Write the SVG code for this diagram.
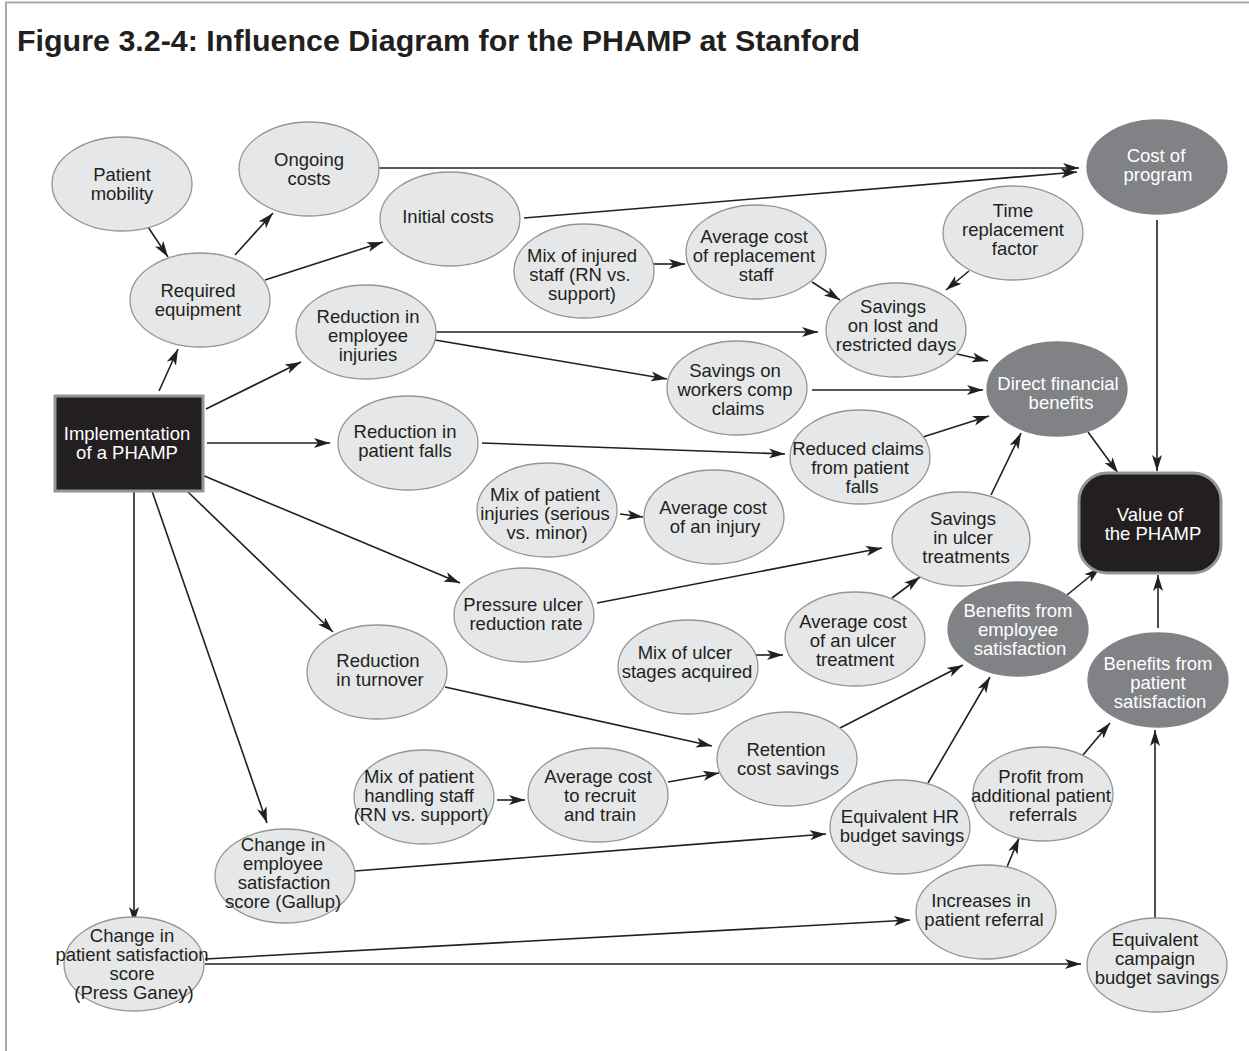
<svg xmlns="http://www.w3.org/2000/svg" width="1249" height="1051" viewBox="0 0 1249 1051">
<style>
.t{font-family:"Liberation Sans",Arial,Helvetica,sans-serif;font-size:18.5px;fill:#231f20;text-anchor:middle}
.w{fill:#ffffff}
.n{fill:#e6e7e8;stroke:#939598;stroke-width:1.3}
.d{fill:#808285;stroke:#808285;stroke-width:1.3}
.k{fill:#231f20;stroke:#939598;stroke-width:3}
.e{stroke:#231f20;stroke-width:1.6;fill:none;marker-end:url(#ah)}
</style>
<defs>
<marker id="ah" markerUnits="userSpaceOnUse" markerWidth="18" markerHeight="12" refX="16" refY="5" orient="auto">
<path d="M0,0 L16,5 L0,10 L4,5 z" fill="#231f20"/>
</marker>
</defs>
<rect width="1249" height="1051" fill="#ffffff"/>
<path d="M6,1051 V2.5 H1249" fill="none" stroke="#a7a9ac" stroke-width="2"/>
<text x="17" y="51" font-family="Liberation Sans,Arial,sans-serif" font-weight="bold" font-size="30" fill="#231f20" textLength="843" lengthAdjust="spacingAndGlyphs">Figure 3.2-4: Influence Diagram for the PHAMP at Stanford</text>

<g id="connectors">
<line class="e" x1="148" y1="227" x2="168" y2="257"/>
<line class="e" x1="235" y1="255" x2="273" y2="213"/>
<line class="e" x1="265" y1="280" x2="383" y2="242"/>
<line class="e" x1="379" y1="168" x2="1079" y2="168"/>
<line class="e" x1="524" y1="218" x2="1077" y2="172"/>
<line class="e" x1="653" y1="264" x2="685" y2="264"/>
<line class="e" x1="812" y1="282" x2="840" y2="300"/>
<line class="e" x1="969" y1="271" x2="946" y2="290"/>
<line class="e" x1="435" y1="332" x2="818" y2="332"/>
<line class="e" x1="435" y1="340" x2="667" y2="379"/>
<line class="e" x1="957" y1="354" x2="988" y2="361"/>
<line class="e" x1="812" y1="390" x2="983" y2="390"/>
<line class="e" x1="923" y1="437" x2="989" y2="416"/>
<line class="e" x1="991" y1="495" x2="1021" y2="433"/>
<line class="e" x1="1088" y1="432" x2="1118" y2="473"/>
<line class="e" x1="1157" y1="220" x2="1157" y2="471"/>
<line class="e" x1="1067" y1="595" x2="1100" y2="568"/>
<line class="e" x1="1158" y1="628" x2="1158" y2="575"/>
<line class="e" x1="159" y1="391" x2="178" y2="349"/>
<line class="e" x1="206" y1="409" x2="301" y2="362"/>
<line class="e" x1="207" y1="443" x2="330" y2="443"/>
<line class="e" x1="202" y1="475" x2="460" y2="583"/>
<line class="e" x1="187" y1="491" x2="333" y2="632"/>
<line class="e" x1="152" y1="491" x2="267" y2="823"/>
<line class="e" x1="134" y1="491" x2="134" y2="923"/>
<line class="e" x1="482" y1="443" x2="785" y2="454"/>
<line class="e" x1="620" y1="514" x2="643" y2="517"/>
<line class="e" x1="597" y1="603" x2="882" y2="548"/>
<line class="e" x1="892" y1="598" x2="920" y2="577"/>
<line class="e" x1="756" y1="655" x2="783" y2="655"/>
<line class="e" x1="445" y1="687" x2="712" y2="746"/>
<line class="e" x1="668" y1="782" x2="719" y2="773"/>
<line class="e" x1="497" y1="800" x2="525" y2="800"/>
<line class="e" x1="840" y1="728" x2="963" y2="665"/>
<line class="e" x1="928" y1="783" x2="990" y2="677"/>
<line class="e" x1="355" y1="871" x2="826" y2="834"/>
<line class="e" x1="1083" y1="755" x2="1110" y2="723"/>
<line class="e" x1="1007" y1="867" x2="1019" y2="838"/>
<line class="e" x1="205" y1="959" x2="910" y2="920"/>
<line class="e" x1="205" y1="964" x2="1081" y2="964"/>
<line class="e" x1="1155" y1="918" x2="1155" y2="730"/>
</g>

<g id="patient-mobility"><ellipse class="n" cx="122" cy="184" rx="70" ry="47"/><text class="t"><tspan x="122" y="181">Patient</tspan><tspan x="122" y="200">mobility</tspan></text></g>
<g id="ongoing-costs"><ellipse class="n" cx="309" cy="169" rx="70" ry="47"/><text class="t"><tspan x="309" y="166">Ongoing</tspan><tspan x="309" y="185">costs</tspan></text></g>
<g id="initial-costs"><ellipse class="n" cx="450" cy="219" rx="70" ry="47"/><text class="t"><tspan x="448" y="223">Initial costs</tspan></text></g>
<g id="required-equipment"><ellipse class="n" cx="200" cy="300" rx="70" ry="47"/><text class="t"><tspan x="198" y="297">Required</tspan><tspan x="198" y="316">equipment</tspan></text></g>
<g id="reduction-employee-injuries"><ellipse class="n" cx="366" cy="332" rx="70" ry="47"/><text class="t"><tspan x="368" y="323">Reduction in</tspan><tspan x="368" y="342">employee</tspan><tspan x="368" y="361">injuries</tspan></text></g>
<g id="mix-injured-staff"><ellipse class="n" cx="584" cy="271" rx="70" ry="47"/><text class="t"><tspan x="582" y="262">Mix of injured</tspan><tspan x="580" y="281">staff (RN vs.</tspan><tspan x="582" y="300">support)</tspan></text></g>
<g id="avg-cost-replacement"><ellipse class="n" cx="756" cy="252" rx="70" ry="47"/><text class="t"><tspan x="754" y="243">Average cost</tspan><tspan x="754" y="262">of replacement</tspan><tspan x="756" y="281">staff</tspan></text></g>
<g id="time-replacement-factor"><ellipse class="n" cx="1013" cy="233" rx="70" ry="47"/><text class="t"><tspan x="1013" y="217">Time</tspan><tspan x="1013" y="236">replacement</tspan><tspan x="1015" y="255">factor</tspan></text></g>
<g id="cost-of-program"><ellipse class="d" cx="1157" cy="167" rx="70" ry="47"/><text class="t w"><tspan x="1156" y="162">Cost of</tspan><tspan x="1158" y="181">program</tspan></text></g>
<g id="savings-lost-days"><ellipse class="n" cx="896" cy="330" rx="70" ry="47"/><text class="t"><tspan x="893" y="313">Savings</tspan><tspan x="893" y="332">on lost and</tspan><tspan x="896" y="351">restricted days</tspan></text></g>
<g id="direct-financial-benefits"><ellipse class="d" cx="1057" cy="389" rx="70" ry="47"/><text class="t w"><tspan x="1058" y="390">Direct financial</tspan><tspan x="1061" y="409">benefits</tspan></text></g>
<g id="savings-workers-comp"><ellipse class="n" cx="737" cy="388" rx="70" ry="47"/><text class="t"><tspan x="735" y="377">Savings on</tspan><tspan x="735" y="396">workers comp</tspan><tspan x="738" y="415">claims</tspan></text></g>
<g id="implementation"><rect class="k" x="55" y="396" width="148" height="95"/><text class="t w"><tspan x="127" y="440">Implementation</tspan><tspan x="127" y="459">of a PHAMP</tspan></text></g>
<g id="reduction-patient-falls"><ellipse class="n" cx="408" cy="443" rx="70" ry="47"/><text class="t"><tspan x="405" y="438">Reduction in</tspan><tspan x="405" y="457">patient falls</tspan></text></g>
<g id="reduced-claims"><ellipse class="n" cx="860" cy="457" rx="70" ry="47"/><text class="t"><tspan x="858" y="455">Reduced claims</tspan><tspan x="860" y="474">from patient</tspan><tspan x="862" y="493">falls</tspan></text></g>
<g id="mix-patient-injuries"><ellipse class="n" cx="547" cy="510" rx="70" ry="47"/><text class="t"><tspan x="545" y="501">Mix of patient</tspan><tspan x="545" y="520">injuries (serious</tspan><tspan x="547" y="539">vs. minor)</tspan></text></g>
<g id="avg-cost-injury"><ellipse class="n" cx="714" cy="517" rx="70" ry="47"/><text class="t"><tspan x="713" y="514">Average cost</tspan><tspan x="715" y="533">of an injury</tspan></text></g>
<g id="savings-ulcer"><ellipse class="n" cx="961" cy="539" rx="69" ry="47"/><text class="t"><tspan x="963" y="525">Savings</tspan><tspan x="963" y="544">in ulcer</tspan><tspan x="966" y="563">treatments</tspan></text></g>
<g id="value-of-phamp"><rect class="k" x="1079" y="473" width="142" height="100" rx="28" ry="28"/><text class="t w"><tspan x="1150" y="521">Value of</tspan><tspan x="1153" y="540">the PHAMP</tspan></text></g>
<g id="pressure-ulcer"><ellipse class="n" cx="524" cy="615" rx="70" ry="47"/><text class="t"><tspan x="523" y="611">Pressure ulcer</tspan><tspan x="526" y="630">reduction rate</tspan></text></g>
<g id="mix-ulcer-stages"><ellipse class="n" cx="688" cy="667" rx="70" ry="47"/><text class="t"><tspan x="685" y="659">Mix of ulcer</tspan><tspan x="687" y="678">stages acquired</tspan></text></g>
<g id="avg-cost-ulcer"><ellipse class="n" cx="855" cy="639" rx="70" ry="47"/><text class="t"><tspan x="853" y="628">Average cost</tspan><tspan x="853" y="647">of an ulcer</tspan><tspan x="855" y="666">treatment</tspan></text></g>
<g id="benefits-employee-satisfaction"><ellipse class="d" cx="1018" cy="629" rx="70" ry="47"/><text class="t w"><tspan x="1018" y="617">Benefits from</tspan><tspan x="1018" y="636">employee</tspan><tspan x="1020" y="655">satisfaction</tspan></text></g>
<g id="benefits-patient-satisfaction"><ellipse class="d" cx="1158" cy="680" rx="70" ry="47"/><text class="t w"><tspan x="1158" y="670">Benefits from</tspan><tspan x="1158" y="689">patient</tspan><tspan x="1160" y="708">satisfaction</tspan></text></g>
<g id="reduction-turnover"><ellipse class="n" cx="377" cy="672" rx="70" ry="47"/><text class="t"><tspan x="378" y="667">Reduction</tspan><tspan x="380" y="686">in turnover</tspan></text></g>
<g id="retention-savings"><ellipse class="n" cx="787" cy="759" rx="70" ry="47"/><text class="t"><tspan x="786" y="756">Retention</tspan><tspan x="788" y="775">cost savings</tspan></text></g>
<g id="mix-handling-staff"><ellipse class="n" cx="424" cy="797" rx="70" ry="47"/><text class="t"><tspan x="419" y="783">Mix of patient</tspan><tspan x="419" y="802">handling staff</tspan><tspan x="421" y="821">(RN vs. support)</tspan></text></g>
<g id="avg-cost-recruit"><ellipse class="n" cx="598" cy="795" rx="70" ry="47"/><text class="t"><tspan x="598" y="783">Average cost</tspan><tspan x="600" y="802">to recruit</tspan><tspan x="600" y="821">and train</tspan></text></g>
<g id="equivalent-hr"><ellipse class="n" cx="900" cy="827" rx="70" ry="47"/><text class="t"><tspan x="900" y="823">Equivalent HR</tspan><tspan x="902" y="842">budget savings</tspan></text></g>
<g id="profit-referrals"><ellipse class="n" cx="1043" cy="794" rx="70" ry="47"/><text class="t"><tspan x="1041" y="783">Profit from</tspan><tspan x="1041" y="802">additional patient</tspan><tspan x="1043" y="821">referrals</tspan></text></g>
<g id="change-employee-satisfaction"><ellipse class="n" cx="285" cy="876" rx="70" ry="47"/><text class="t"><tspan x="283" y="851">Change in</tspan><tspan x="283" y="870">employee</tspan><tspan x="284" y="889">satisfaction</tspan><tspan x="283" y="908">score (Gallup)</tspan></text></g>
<g id="change-patient-satisfaction"><ellipse class="n" cx="134" cy="964" rx="70" ry="47"/><text class="t"><tspan x="132" y="942">Change in</tspan><tspan x="132" y="961">patient satisfaction</tspan><tspan x="132" y="980">score</tspan><tspan x="134" y="999">(Press Ganey)</tspan></text></g>
<g id="increases-referral"><ellipse class="n" cx="986" cy="912" rx="70" ry="47"/><text class="t"><tspan x="981" y="907">Increases in</tspan><tspan x="984" y="926">patient referral</tspan></text></g>
<g id="equivalent-campaign"><ellipse class="n" cx="1157" cy="965" rx="70" ry="47"/><text class="t"><tspan x="1155" y="946">Equivalent</tspan><tspan x="1155" y="965">campaign</tspan><tspan x="1157" y="984">budget savings</tspan></text></g>
</svg>
